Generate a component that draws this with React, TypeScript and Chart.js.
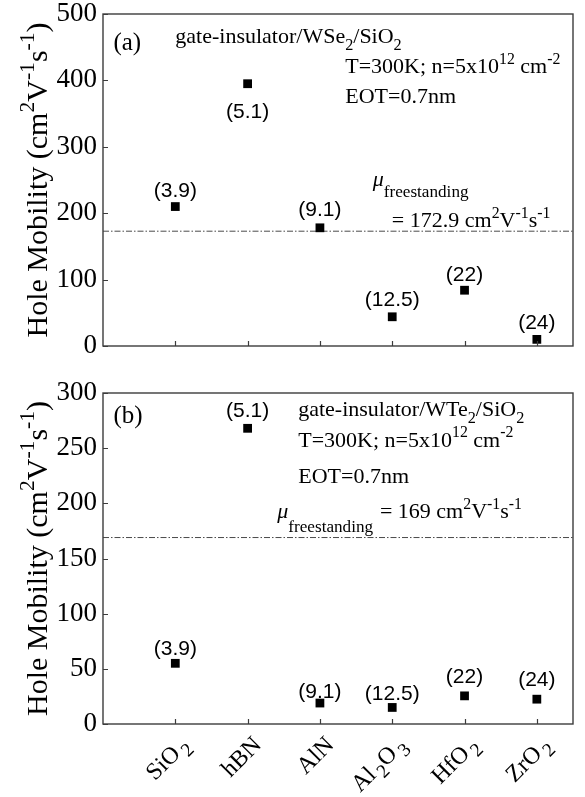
import React, { useEffect, useRef } from 'react';
import { Chart, registerables } from 'chart.js';

Chart.register(...registerables);

const SERIF = '"Liberation Serif", "Times New Roman", serif';
const SANS = '"Liberation Sans", Arial, sans-serif';

// ---- data ----
const categoryLabels = ['SiO_2', 'hBN', 'AlN', 'Al_2O_3', 'HfO_2', 'ZrO_2'];
const dielectricConstants = ['(3.9)', '(5.1)', '(9.1)', '(12.5)', '(22)', '(24)'];

const wse2Mobility = [210, 395, 178, 44, 84, 10];
const wse2LabelAnchor = [224, 343, 196, 60, 98, 25];
const wse2Freestanding = 172.9;
const wse2YTicks = [0, 100, 200, 300, 400, 500];

const wte2Mobility = [55, 268, 19, 15, 25.5, 22.5];
const wte2LabelAnchor = [62.5, 278, 24, 22, 37, 34];
const wte2Freestanding = 169;
const wte2YTicks = [0, 50, 100, 150, 200, 250, 300];

const yTitle = 'Hole Mobility (cm^2V^{-1}s^{-1})';

type Note = { text: string; x: number; y: number; size: number; subDy?: number; subScale?: number };

const notesA: Note[] = [
  { text: '(a)', x: 0.144, y: 446, size: 25 },
  { text: 'gate-insulator/WSe_2/SiO_2', x: 1.0, y: 456.3, size: 22 },
  { text: 'T=300K; n=5x10^{12} cm^{-2}', x: 3.35, y: 411, size: 22 },
  { text: 'EOT=0.7nm', x: 3.35, y: 366, size: 22 },
  { text: '\\mu_{freestanding}', x: 3.73, y: 241, size: 22, subDy: 0.5, subScale: 0.78 },
  { text: '= 172.9 cm^2V^{-1}s^{-1}', x: 3.995, y: 179.2, size: 22 },
];

const notesB: Note[] = [
  { text: '(b)', x: 0.144, y: 272.8, size: 25 },
  { text: 'gate-insulator/WTe_2/SiO_2', x: 2.7, y: 279.2, size: 22 },
  { text: 'T=300K; n=5x10^{12} cm^{-2}', x: 2.7, y: 251.5, size: 22 },
  { text: 'EOT=0.7nm', x: 2.7, y: 218.4, size: 22 },
  { text: '\\mu_{freestanding}', x: 2.41, y: 186.7, size: 22, subDy: 0.62, subScale: 0.78 },
  { text: '= 169 cm^2V^{-1}s^{-1}', x: 3.83, y: 186.7, size: 22 },
];

// ---- rich text ----
type Seg = { t: string; s?: number; dy?: number; italic?: boolean; gap?: number };
type RichOpts = { subScale?: number; supScale?: number; subDy?: number; supDy?: number; subGap?: number };

function parseRich(str: string, o: RichOpts = {}): Seg[] {
  const subScale = o.subScale ?? 0.74;
  const supScale = o.supScale ?? 0.72;
  const subDy = o.subDy ?? 0.3;
  const supDy = o.supDy ?? -0.42;
  const segs: Seg[] = [];
  let buf = '';
  let i = 0;
  const flush = () => {
    if (buf) {
      segs.push({ t: buf });
      buf = '';
    }
  };
  while (i < str.length) {
    const c = str[i];
    if (c === '_' || c === '^') {
      flush();
      let t: string;
      if (str[i + 1] === '{') {
        const j = str.indexOf('}', i + 2);
        t = str.slice(i + 2, j);
        i = j + 1;
      } else {
        t = str[i + 1];
        i += 2;
      }
      if (c === '_') segs.push({ t, s: subScale, dy: subDy, gap: o.subGap ?? 0 });
      else segs.push({ t, s: supScale, dy: supDy });
    } else if (str.startsWith('\\mu', i)) {
      flush();
      segs.push({ t: 'μ', italic: true });
      i += 3;
    } else {
      buf += c;
      i++;
    }
  }
  flush();
  return segs;
}

function drawRich(
  ctx: CanvasRenderingContext2D,
  segs: Seg[],
  x: number,
  y: number,
  size: number,
  family: string,
  align: 'left' | 'center' | 'right' = 'left'
) {
  const fontOf = (sg: Seg) => `${sg.italic ? 'italic ' : ''}${size * (sg.s ?? 1)}px ${family}`;
  let total = 0;
  const widths = segs.map((sg) => {
    ctx.font = fontOf(sg);
    const w = ctx.measureText(sg.t).width + (sg.gap ?? 0);
    total += w;
    return w;
  });
  let cx = align === 'left' ? x : align === 'center' ? x - total / 2 : x - total;
  ctx.textAlign = 'left';
  ctx.textBaseline = 'alphabetic';
  segs.forEach((sg, i) => {
    ctx.font = fontOf(sg);
    ctx.fillText(sg.t, cx + (sg.gap ?? 0), y + (sg.dy ?? 0) * size);
    cx += widths[i];
  });
}

type Panel = {
  values: number[];
  labelAnchor: number[];
  freestanding: number;
  yTicks: number[];
  notes: Note[];
  showX: boolean;
  padding: { top: number; right: number; bottom: number; left: number };
};

function makeDeco(panel: Panel) {
  return {
    id: 'deco',
    afterDraw(chart: any) {
      const ctx: CanvasRenderingContext2D = chart.ctx;
      const { left, right, top, bottom } = chart.chartArea;
      const xs = chart.scales.x;
      const ys = chart.scales.y;
      ctx.save();
      // frame
      ctx.strokeStyle = '#3c3c3c';
      ctx.lineWidth = 1.4;
      ctx.strokeRect(left, top, right - left, bottom - top);
      // inward tick marks
      ctx.beginPath();
      panel.yTicks.forEach((v) => {
        const py = Math.round(ys.getPixelForValue(v)) + 0.5;
        ctx.moveTo(left, py);
        ctx.lineTo(left + 5, py);
      });
      categoryLabels.forEach((_, i) => {
        const px = Math.round(xs.getPixelForValue(i + 1)) + 0.5;
        ctx.moveTo(px, bottom);
        ctx.lineTo(px, bottom - 5);
      });
      ctx.lineWidth = 1.2;
      ctx.stroke();

      ctx.fillStyle = '#000';
      // dielectric constant labels
      ctx.font = `21px ${SANS}`;
      ctx.textAlign = 'center';
      ctx.textBaseline = 'alphabetic';
      dielectricConstants.forEach((lbl, i) => {
        ctx.fillText(lbl, xs.getPixelForValue(i + 1), ys.getPixelForValue(panel.labelAnchor[i]));
      });

      // annotations
      panel.notes.forEach((n) => {
        const segs = parseRich(n.text, { subDy: n.subDy, subScale: n.subScale });
        drawRich(ctx, segs, xs.getPixelForValue(n.x), ys.getPixelForValue(n.y), n.size, SERIF, 'left');
      });

      // y title
      ctx.save();
      ctx.translate(47, (top + bottom) / 2);
      ctx.rotate(-Math.PI / 2);
      drawRich(ctx, parseRich(yTitle), 0, 0, 30, SERIF, 'center');
      ctx.restore();

      // x category labels
      if (panel.showX) {
        categoryLabels.forEach((lbl, i) => {
          const px = xs.getPixelForValue(i + 1);
          ctx.save();
          ctx.translate(px + 15, bottom + 22);
          ctx.rotate(-Math.PI / 4);
          drawRich(ctx, parseRich(lbl, { subGap: 3, subDy: 0.28, subScale: 0.8 }), 0, 0, 24, SERIF, 'right');
          ctx.restore();
        });
      }
      ctx.restore();
    },
  };
}

function buildChart(canvas: HTMLCanvasElement, panel: Panel) {
  const points = panel.values.map((v, i) => ({ x: i + 1, y: v }));
  const yMax = panel.yTicks[panel.yTicks.length - 1];
  return new Chart(canvas, {
    type: 'scatter',
    data: {
      datasets: [
        {
          type: 'scatter',
          data: points,
          pointStyle: 'rect',
          pointRadius: 6.2,
          pointHoverRadius: 6.2,
          backgroundColor: '#000',
          borderColor: '#000',
          borderWidth: 0,
        } as any,
        {
          type: 'line',
          data: [
            { x: 0, y: panel.freestanding },
            { x: 6.5, y: panel.freestanding },
          ],
          borderColor: '#4a4a4a',
          borderWidth: 1,
          borderDash: [6, 2, 1.5, 2],
          pointRadius: 0,
          fill: false,
        } as any,
      ],
    },
    options: {
      responsive: false,
      animation: false,
      devicePixelRatio: 1,
      layout: { padding: panel.padding },
      plugins: { legend: { display: false }, tooltip: { enabled: false } },
      events: [],
      scales: {
        x: { type: 'linear', min: 0, max: 6.5, display: false },
        y: {
          type: 'linear',
          min: 0,
          max: yMax,
          afterBuildTicks: (s: any) => {
            s.ticks = panel.yTicks.map((v) => ({ value: v }));
          },
          afterFit: (s: any) => {
            s.width = 103;
            s.paddingTop = 0;
            s.paddingBottom = 0;
          },
          grid: { display: false, drawTicks: false },
          border: { display: false },
          ticks: {
            font: { family: SERIF, size: 27 },
            color: '#000',
            padding: 6,
          },
        },
      },
    } as any,
    plugins: [makeDeco(panel)],
  });
}

export default function App() {
  const topRef = useRef<HTMLCanvasElement>(null);
  const botRef = useRef<HTMLCanvasElement>(null);

  useEffect(() => {
    const a = buildChart(topRef.current!, {
      values: wse2Mobility,
      labelAnchor: wse2LabelAnchor,
      freestanding: wse2Freestanding,
      yTicks: wse2YTicks,
      notes: notesA,
      showX: false,
      padding: { top: 14, right: 12, bottom: 24, left: 0 },
    });
    const b = buildChart(botRef.current!, {
      values: wte2Mobility,
      labelAnchor: wte2LabelAnchor,
      freestanding: wte2Freestanding,
      yTicks: wte2YTicks,
      notes: notesB,
      showX: true,
      padding: { top: 23, right: 12, bottom: 73, left: 0 },
    });
    return () => {
      a.destroy();
      b.destroy();
    };
  }, []);

  return (
    <div style={{ position: 'absolute', left: 0, top: 0, width: 585, height: 797, background: '#fff' }}>
      <canvas ref={topRef} width={585} height={370} style={{ position: 'absolute', left: 0, top: 0, width: 585, height: 370 }} />
      <canvas ref={botRef} width={585} height={427} style={{ position: 'absolute', left: 0, top: 370, width: 585, height: 427 }} />
    </div>
  );
}
